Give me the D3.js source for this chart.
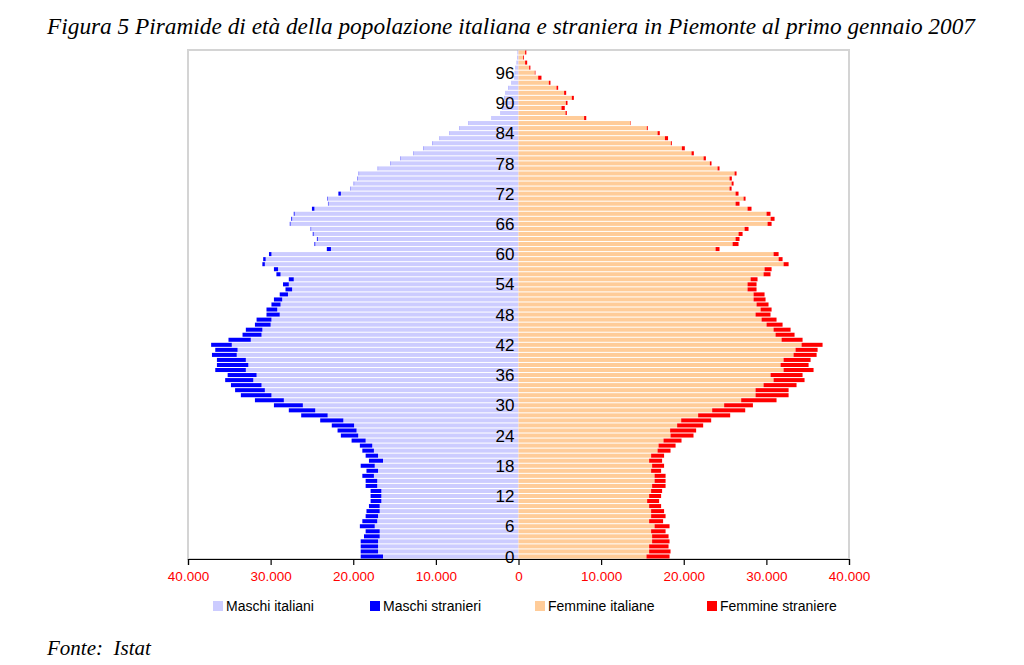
<!DOCTYPE html>
<html>
<head>
<meta charset="utf-8">
<script src="https://cdn.jsdelivr.net/npm/d3@7"></script>
<style>
  html, body { margin: 0; padding: 0; background: #fff; }
  svg { display: block; }
</style>
</head>
<body>
<svg id="chart" width="1024" height="665"></svg>
<script>
// ---------- DATA (ages 0..100) ----------
const ages = d3.range(0, 101);
const ageTicks = [0, 6, 12, 18, 24, 30, 36, 42, 48, 54, 60, 66, 72, 78, 84, 90, 96];
const xTicks = [-40000, -30000, -20000, -10000, 0, 10000, 20000, 30000, 40000];
const seriesNames = ["Maschi italiani", "Maschi stranieri", "Femmine italiane", "Femmine straniere"];

const maschiItaliani = [
  16400, 17000, 17000, 17000, 16800, 16800, 17400, 17100, 17000, 16800,
  16800, 16600, 16600, 16600, 17100, 17100, 17500, 17000, 17400, 16400,
  17000, 17500, 17700, 18500, 19400, 19600, 19900, 21200, 23100, 24600,
  26100, 28400, 29900, 30700, 31100, 32100, 31700, 33000, 32700, 33000,
  34100, 34000, 34700, 32400, 31100, 31000, 30000, 29900, 28900, 29200,
  28800, 28600, 27900, 27400, 27800, 27200, 28800, 29100, 30700, 30600,
  29900, 22700, 24600, 24300, 24800, 25100, 27600, 27400, 27100, 24700,
  23000, 23100, 21500, 20300, 19900, 19500, 19300, 17000, 15500, 14300,
  12700, 11500, 10400, 9500, 8300, 7100, 6050, 3230, 2140, 1940,
  1850, 1700, 1540, 1210, 810, 450, 420, 330, 180, 100,
  60
];
const maschiStranieri = [
  2700, 2100, 2100, 2100, 1900, 1700, 1800, 1800, 1500, 1600,
  1300, 1300, 1300, 1300, 1400, 1400, 1400, 1400, 1700, 1700,
  1500, 1400, 1500, 1700, 2100, 2300, 2700, 2800, 3200, 3200,
  3500, 3500, 3700, 3600, 3700, 3400, 3500, 3700, 3800, 3500,
  3000, 2700, 2500, 2700, 2300, 2000, 1900, 1800, 1600, 1300,
  1100, 1000, 1000, 800, 700, 600, 500, 500, 300, 300,
  300, 500, 100, 100, 100, 60, 80, 100, 100, 300,
  60, 60, 300, 40, 40, 40, 40, 30, 30, 30,
  30, 30, 30, 30, 30, 30, 20, 20, 20, 20,
  20, 20, 20, 20, 20, 20, 20, 20, 20, 20,
  20
];
const femmineItaliane = [
  15490, 15810, 15810, 16170, 16170, 16050, 16470, 15810, 16050, 16050,
  15810, 15570, 15810, 16050, 16170, 16470, 16470, 16050, 16170, 15810,
  16050, 16830, 16950, 17550, 18400, 18350, 19200, 19690, 21740, 23440,
  24890, 26950, 28690, 28690, 29660, 30870, 30510, 32080, 31720, 32080,
  33290, 33530, 34260, 31840, 31110, 30870, 30020, 29420, 28690, 29300,
  28810, 28450, 28450, 27720, 27720, 28090, 29660, 29780, 32080, 31480,
  30870, 23850, 25910, 26270, 26630, 27360, 30140, 30510, 30020, 27720,
  26270, 27240, 26270, 25540, 25790, 25540, 26150, 24090, 23160, 22400,
  20940, 19770, 18440, 17720, 16830, 15530, 13560, 7940, 5690, 5200,
  5730, 6450, 5520, 4600, 3670, 2380, 1970, 1290, 800, 560,
  800
];
const femmineStraniere = [
  2790, 2590, 2350, 2110, 1990, 1750, 1810, 1690, 1750, 1570,
  1450, 1450, 1450, 1330, 1630, 1330, 1330, 1210, 1450, 1570,
  1570, 1570, 2060, 2180, 2780, 3150, 3150, 3630, 3880, 4000,
  3480, 4280, 4000, 4000, 3990, 3750, 3870, 3630, 3390, 3270,
  2790, 2670, 2540, 2540, 2300, 2060, 1940, 1810, 1810, 1330,
  1450, 1450, 1330, 1090, 1090, 840, 840, 850, 610, 480,
  610, 480, 720, 480, 490, 480, 490, 480, 480, 480,
  480, 240, 360, 250, 240, 280, 240, 240, 200, 280,
  280, 360, 120, 380, 270, 120, 50, 260, 160, 400,
  200, 250, 250, 200, 200, 400, 80, 150, 250, 100,
  150
];

// ---------- STYLE ----------
const colors = ["#ccccff", "#0000ff", "#ffcc99", "#ff0000"];
const plot = { left: 188, right: 849, top: 50, bottom: 559 };

const svg = d3.select("#chart");

const x = d3.scaleLinear().domain([-40000, 40000]).range([plot.left, plot.right]);
const y = d3.scaleBand().domain(ages).range([plot.bottom, plot.top]).paddingInner(0.2).paddingOuter(0.1);

// frame
svg.append("rect")
  .attr("x", plot.left).attr("y", plot.top)
  .attr("width", plot.right - plot.left).attr("height", plot.bottom - plot.top)
  .attr("fill", "none").attr("stroke", "#d4d4d4").attr("stroke-width", 2);

const rows = ages.map((a, i) => ({
  age: a,
  mi: maschiItaliani[i], ms: maschiStranieri[i],
  fi: femmineItaliane[i], fs: femmineStraniere[i]
}));

const g = svg.append("g");
// Maschi italiani
g.selectAll(".mi").data(rows).join("rect")
  .attr("x", d => x(-d.mi)).attr("width", d => x(0) - x(-d.mi))
  .attr("y", d => y(d.age)).attr("height", y.bandwidth())
  .attr("fill", colors[0]);
// Maschi stranieri
g.selectAll(".ms").data(rows).join("rect")
  .attr("x", d => x(-(d.mi + d.ms))).attr("width", d => x(-d.mi) - x(-(d.mi + d.ms)))
  .attr("y", d => y(d.age)).attr("height", y.bandwidth())
  .attr("fill", colors[1]);
// Femmine italiane
g.selectAll(".fi").data(rows).join("rect")
  .attr("x", x(0)).attr("width", d => x(d.fi) - x(0))
  .attr("y", d => y(d.age)).attr("height", y.bandwidth())
  .attr("fill", colors[2]);
// Femmine straniere
g.selectAll(".fs").data(rows).join("rect")
  .attr("x", d => x(d.fi)).attr("width", d => x(d.fi + d.fs) - x(d.fi))
  .attr("y", d => y(d.age)).attr("height", y.bandwidth())
  .attr("fill", colors[3]);

// age labels
svg.append("g").selectAll("text").data(ageTicks).join("text")
  .attr("x", x(0) - 4)
  .attr("y", d => y(d) + y.bandwidth() / 2)
  .attr("dy", "0.36em")
  .attr("text-anchor", "end")
  .attr("font-family", "Liberation Sans, Arial, sans-serif")
  .attr("font-size", 17)
  .attr("fill", "#000")
  .text(d => d);

// x axis
const loc = d3.formatLocale({ decimal: ",", thousands: ".", grouping: [3], currency: ["", ""] });
const fmt = loc.format(",d");
const axis = d3.axisBottom(x).tickValues(xTicks).tickSize(6).tickPadding(6)
  .tickFormat(d => fmt(Math.abs(d)));
const ax = svg.append("g").attr("transform", `translate(0,${plot.bottom})`).call(axis);
ax.select(".domain").attr("stroke", "#000").attr("stroke-width", 1.2);
ax.selectAll(".tick line").attr("stroke", "#000").attr("stroke-width", 1.2);
ax.selectAll(".tick text")
  .attr("fill", "#ff0000")
  .attr("font-family", "Liberation Sans, Arial, sans-serif")
  .attr("font-size", 13.5);

// legend
const legendX = [213, 370, 535, 707];
const lg = svg.append("g").selectAll("g").data(seriesNames).join("g")
  .attr("transform", (d, i) => `translate(${legendX[i]},606)`);
lg.append("rect").attr("x", 0).attr("y", -5).attr("width", 10).attr("height", 10)
  .attr("fill", (d, i) => colors[i]);
lg.append("text").attr("x", 13).attr("y", 0).attr("dy", "0.36em")
  .attr("font-family", "Liberation Sans, Arial, sans-serif")
  .attr("font-size", 14).attr("fill", "#000")
  .text(d => d);

// title
svg.append("text")
  .attr("x", 47).attr("y", 34)
  .attr("font-family", "Liberation Serif, Times New Roman, serif")
  .attr("font-style", "italic")
  .attr("font-size", 23)
  .attr("fill", "#000")
  .attr("textLength", 928).attr("lengthAdjust", "spacingAndGlyphs")
  .text("Figura 5 Piramide di età della popolazione italiana e straniera in Piemonte al primo gennaio 2007");

// source
svg.append("text")
  .attr("x", 47).attr("y", 655)
  .attr("font-family", "Liberation Serif, Times New Roman, serif")
  .attr("font-style", "italic")
  .attr("font-size", 21)
  .attr("fill", "#000")
  .style("white-space", "pre")
  .text("Fonte:  Istat");
</script>
</body>
</html>
